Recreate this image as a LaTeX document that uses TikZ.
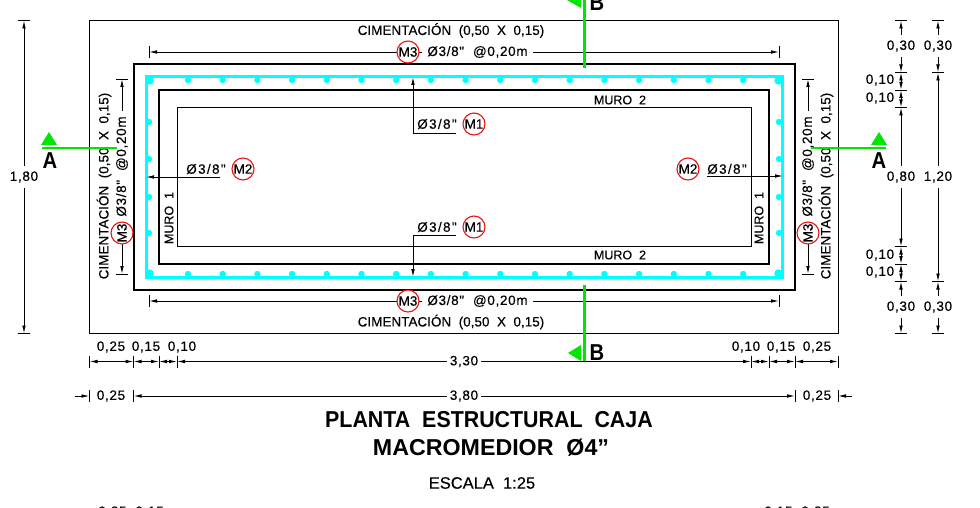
\documentclass[tikz,border=0pt]{standalone}
\usepackage{graphicx}
\usepackage{fontspec}
\setmainfont[UprightFeatures={FakeBold=0.3}]{Liberation Sans}
\newfontfamily\numfont[LetterSpace=5,FakeBold=0.3]{Liberation Sans}
\newfontfamily\barfont[LetterSpace=10,FakeBold=0.3]{Liberation Sans}
\usetikzlibrary{arrows.meta}
\definecolor{cadcyan}{RGB}{0,255,255}
\definecolor{cadgreen}{RGB}{0,230,0}
\definecolor{cadred}{RGB}{235,20,20}
\tikzset{
 x=1pt,y=-1pt,
 thinline/.style={line width=1pt,black},
 wallline/.style={line width=2pt,black},
 bar/.style={line width=3pt,cadcyan},
 dimline/.style={line width=0.9pt,black},
 dimarrow/.style={dimline,{Latex[length=8pt,width=3.6pt]}-{Latex[length=8pt,width=3.6pt]}},
 leader/.style={dimline,-{Latex[length=8pt,width=3.6pt]}},
 cut/.style={line width=2.4pt,cadgreen},
 txt/.style={font=\fontsize{13.5}{14}\selectfont,inner sep=0pt,text=black},
 numtxt/.style={font=\numfont\fontsize{13.5}{14}\selectfont,inner sep=0pt,text=black},
 dimgap/.style={numtxt,fill=white,inner xsep=3pt,inner ysep=5pt},
 bartxt/.style={numtxt,fill=white,inner xsep=5pt,inner ysep=3pt},
 lead/.style={font=\barfont\fontsize{13.5}{14}\selectfont,inner sep=0pt,text=black},
 wall/.style={font=\fontsize{12.5}{14}\selectfont,inner sep=0pt,text=black},
 tag/.style={circle,draw=cadred,line width=1.1pt,fill=white,minimum size=22pt,inner sep=0pt,font=\fontsize{13.5}{14}\selectfont},
 head/.style={font=\bfseries\fontsize{23}{24}\selectfont,inner sep=0pt},
}
\newcommand{\hdimen}[3]{\draw[dimarrow] (#1,#3)--(#2,#3);
 \draw[dimline] (#1,#3-6)--(#1,#3+6) (#2,#3-6)--(#2,#3+6);}
\newcommand{\vdimen}[3]{\draw[dimarrow] (#3,#1)--(#3,#2);
 \draw[dimline] (#3-6,#1)--(#3+6,#1) (#3-6,#2)--(#3+6,#2);}
\newcommand{\seclet}[1]{\scalebox{0.88}[1]{#1}}
\begin{document}
\begin{tikzpicture}
\useasboundingbox (0,0) rectangle (980,508);
\clip (0,0) rectangle (980,508);
% outlines
\draw[thinline] (89.5,20.5) rectangle (838,333.5);
\draw[wallline] (133.5,64) rectangle (795,290);
\draw[wallline] (159,90) rectangle (769,264);
\draw[thinline] (177,107.5) rectangle (751,246.5);
% rebar
\draw[bar] (146,77) rectangle (782,277);
\foreach \k in {0,...,16}{
 \fill[cadcyan] ({188+34.7*\k},80) circle (3.2);
 \fill[cadcyan] ({188+34.7*\k},274) circle (3.2);}
\foreach \yy in {122,159,197,233}{
 \fill[cadcyan] (149,\yy) circle (3.2);
 \fill[cadcyan] (779,\yy) circle (3.2);}
\foreach \xx in {149.5,778.5}\foreach \yy in {80.5,273.5}{\fill[cadcyan] (\xx,\yy) circle (4.2);}
% bar dimensions
\hdimen{149}{779}{52}
\hdimen{149}{779}{301}
\vdimen{79}{274}{122}
\vdimen{79}{274}{808}
\node[bartxt] (ta) at (477.5,52) {Ø3/8"\ \ @0,20m};
\node[bartxt] (tb) at (477.5,301) {Ø3/8"\ \ @0,20m};
\node[bartxt,rotate=90] (tc) at (122,166.5) {Ø3/8"\ \ @0,20m};
\node[bartxt,rotate=90] (td) at (808,166.5) {Ø3/8"\ \ @0,20m};
\node[tag] (m3a) at (408,52) {M3};
\node[tag] (m3b) at (408,301) {M3};
\node[tag,rotate=90] (m3c) at (122,233) {M3};
\node[tag,rotate=90] (m3d) at (808,233) {M3};
\node[txt] (ca) at (451,30.5) {CIMENTACIÓN\ \ (0,50\ \ X\ \ 0,15)};
\node[txt] (cb) at (451,322) {CIMENTACIÓN\ \ (0,50\ \ X\ \ 0,15)};
\node[txt,rotate=90] (cc) at (104,186) {CIMENTACIÓN\ \ (0,50\ \ X\ \ 0,15)};
\node[txt,rotate=90] (cd) at (826,186) {CIMENTACIÓN\ \ (0,50\ \ X\ \ 0,15)};
% wall labels
\node[wall] (w2a) at (620,100) {MURO\ \ 2};
\node[wall] (w2b) at (620,255) {MURO\ \ 2};
\node[wall,rotate=90] (w1a) at (169,218) {MURO\ \ 1};
\node[wall,rotate=90] (w1b) at (759,218) {MURO\ \ 1};
% leaders
\node[lead] (la) at (437,124) {Ø3/8"};
\node[tag] (m1a) at (474,124) {M1};
\node[lead] (lb) at (437,227) {Ø3/8"};
\node[tag] (m1b) at (474,227) {M1};
\node[lead] (lc) at (206,169) {Ø3/8"};
\node[tag] (m2a) at (243,169) {M2};
\node[lead] (ld) at (727,169) {Ø3/8"};
\node[tag] (m2b) at (688,169) {M2};
\coordinate (pa) at (413,77);
\coordinate (pb) at (413,277);
\coordinate (pc) at (146,177);
\coordinate (pd) at (783,176);
\draw[leader] (456,133)--(413,133)--(pa);
\draw[leader] (456,235)--(413,235)--(pb);
\draw[leader] (220,177)--(pc);
\draw[leader] (707,176)--(pd);
% bottom dimensions
\foreach \a/\b in {89.5/133.5,133.5/159,159/177,177/751,751/769,769/795,795/838}{\hdimen{\a}{\b}{361.5}}
\node[dimgap] (d330) at (464,361.5) {3,30};
\node[numtxt] (t1) at (111,347) {0,25};
\node[numtxt] (t2) at (146,347) {0,15};
\node[numtxt] (t3) at (182,347) {0,10};
\node[numtxt] (t4) at (746,347) {0,10};
\node[numtxt] (t5) at (781,347) {0,15};
\node[numtxt] (t6) at (817,347) {0,25};
\draw[dimarrow] (133.5,396)--(795,396);
\draw[leader] (75,396)--(89.5,396);
\draw[leader] (852,396)--(838,396);
\foreach \xx in {89.5,133.5,795,838}{\draw[dimline] (\xx,390)--(\xx,402);}
\node[dimgap] (d380) at (464,396) {3,80};
\node[numtxt] (t7) at (111,396) {0,25};
\node[numtxt] (t8) at (817,396) {0,25};
% vertical dimensions
\vdimen{20.5}{333.5}{24}
\node[dimgap] (v180) at (24,177) {1,80};
\foreach \a/\b in {20.5/72.5,72.5/90,90/107.5,107.5/246.5,246.5/264,264/281.5,281.5/333.5}{\vdimen{\a}{\b}{901}}
\foreach \a/\b in {20.5/72.5,72.5/281.5,281.5/333.5}{\vdimen{\a}{\b}{938}}
\node[dimgap] (v1) at (901,46) {0,30};
\node[dimgap] (v2) at (938,46) {0,30};
\node[numtxt] (v3) at (880,80) {0,10};
\node[numtxt] (v4) at (880,98) {0,10};
\node[dimgap] (v5) at (901,177) {0,80};
\node[dimgap] (v6) at (938,177) {1,20};
\node[numtxt] (v7) at (880,255) {0,10};
\node[numtxt] (v8) at (880,272) {0,10};
\node[dimgap] (v9) at (901,307) {0,30};
\node[dimgap] (v10) at (938,307) {0,30};
% section marks
\draw[cut] (42,148)--(117,148);
\draw[cut] (811,148)--(886,148);
\draw[cut] (584.5,0)--(584.5,68);
\draw[cut] (584.5,285)--(584.5,361);
\fill[cadgreen] (41,145)--(57,145)--(49,132)--cycle;
\fill[cadgreen] (871,145)--(887,145)--(879,132)--cycle;
\fill[cadgreen] (581,-8)--(581,8)--(567,0)--cycle;
\fill[cadgreen] (581,345)--(581,361)--(568,353)--cycle;
\node[head] (sa) at (50,160.5) {\seclet{A}};
\node[head] (sb) at (879,160.5) {\seclet{A}};
\node[head] (sc) at (597,3) {\seclet{B}};
\node[head] (sd) at (597,353) {\seclet{B}};
% titles
\node[head] (h1) at (489,420) {\scalebox{0.93}[1]{PLANTA\ \ ESTRUCTURAL\ \ CAJA}};
\node[head] (h2) at (491,448) {\scalebox{1.01}[1]{MACROMEDIOR\ \ Ø4"}};
\node[font=\fontsize{16.5}{17}\selectfont,inner sep=0pt] (h3) at (482,483) {ESCALA\ \ 1:25};
\node[numtxt] (c1) at (131,512) {0,25\ \ 0,15};
\node[numtxt] (c2) at (797,512) {0,15\ \ 0,25};
\end{tikzpicture}
\end{document}
